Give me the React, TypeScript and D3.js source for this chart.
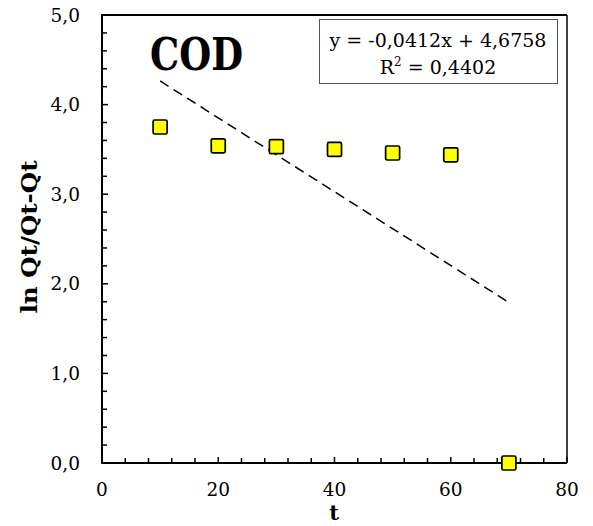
import React from "react";
import * as d3 from "d3";

const tValues = [10, 20, 30, 40, 50, 60, 70];
const lnValues = [3.75, 3.54, 3.53, 3.5, 3.46, 3.44, 0.0];
const slope = -0.0412;
const intercept = 4.6758;
const r2Text = "0,4402";
const eqText = "y = -0,0412x + 4,6758";
const xTicks = [0, 20, 40, 60, 80];
const yTicks = [0, 1, 2, 3, 4, 5];

const W = 593;
const H = 526;
const left = 102;
const right = 567;
const top = 15;
const bottom = 463;

export default function App() {
  const x = d3.scaleLinear().domain([0, 80]).range([left, right]);
  const y = d3.scaleLinear().domain([0, 5]).range([bottom, top]);
  const fmt = (v: number) => v.toFixed(1).replace(".", ",");
  const font = "'DejaVu Serif', serif";

  const xMinor = d3.range(0, 80.001, 4);
  const yMinor = d3.range(0, 5.001, 0.2);

  const fitX = [tValues[0], tValues[tValues.length - 1]];
  const line = d3
    .line<number>()
    .x((d) => x(d))
    .y((d) => y(slope * d + intercept));

  const ms = 14;

  return (
    <svg width={W} height={H} style={{ position: "absolute", left: 0, top: 0, background: "#fff" }}>
      <rect x={0} y={0} width={W} height={H} fill="#fff" />
      {/* frame */}
      <line x1={left} y1={top} x2={right} y2={top} stroke="#000" strokeWidth={2} />
      <line x1={right} y1={top} x2={right} y2={bottom} stroke="#000" strokeWidth={1.5} />
      {/* minor ticks */}
      {xMinor.map((v) => (
        <line key={"xm" + v} x1={x(v)} x2={x(v)} y1={bottom} y2={bottom - (v % 20 === 0 ? 6 : 5)} stroke="#000" strokeWidth={1.5} />
      ))}
      {yMinor.map((v) => (
        <line key={"ym" + v} x1={left} x2={left + (Math.abs(v - Math.round(v)) < 1e-6 ? 6 : 5)} y1={y(v)} y2={y(v)} stroke="#000" strokeWidth={1.5} />
      ))}
      {/* axes */}
      <line x1={left} y1={top - 1} x2={left} y2={bottom + 1} stroke="#000" strokeWidth={2} />
      <line x1={left - 1} y1={bottom} x2={right} y2={bottom} stroke="#000" strokeWidth={2} />
      {/* tick labels */}
      {xTicks.map((v) => (
        <text key={"xt" + v} x={x(v)} y={496} textAnchor="middle" fontFamily={font} fontSize={18.5} fill="#000">
          {v}
        </text>
      ))}
      {yTicks.map((v) => (
        <text key={"yt" + v} x={80} y={y(v) + 6.5} textAnchor="end" fontFamily={font} fontSize={18.5} fill="#000">
          {fmt(v)}
        </text>
      ))}
      {/* axis titles */}
      <text x={334} y={520} textAnchor="middle" fontFamily={font} fontWeight="bold" fontSize={21} fill="#000">
        t
      </text>
      <text
        transform={`translate(37,237) rotate(-90)`}
        textAnchor="middle"
        fontFamily={font}
        fontWeight="bold"
        fontSize={22}
        fill="#000"
        textLength={153}
        lengthAdjust="spacingAndGlyphs"
      >
        ln Qt/Qt-Qt
      </text>
      {/* trend line */}
      <path d={line(fitX) || ""} fill="none" stroke="#000" strokeWidth={1.5} strokeDasharray="10,6" />
      {/* markers */}
      {tValues.map((t, i) => (
        <rect
          key={"m" + i}
          x={x(t) - ms / 2}
          y={y(lnValues[i]) - ms / 2}
          width={ms}
          height={ms}
          rx={1.5}
          fill="#ffff00"
          stroke="#000"
          strokeWidth={1.7}
        />
      ))}
      {/* COD label */}
      <text x={150} y={70} fontFamily={font} fontWeight="bold" fontSize={44} fill="#000" textLength={93} lengthAdjust="spacingAndGlyphs">
        COD
      </text>
      {/* equation box */}
      <rect x={319.5} y={19.5} width={238} height={64} fill="#fff" stroke="#555" strokeWidth={1} />
      <text x={438} y={47} textAnchor="middle" fontFamily={font} fontSize={19} fill="#000">
        {eqText}
      </text>
      <text x={438} y={74} textAnchor="middle" fontFamily={font} fontSize={19} fill="#000">
        R<tspan dy={-8} fontSize={12}>2</tspan>
        <tspan dy={8}> = {r2Text}</tspan>
      </text>
    </svg>
  );
}
